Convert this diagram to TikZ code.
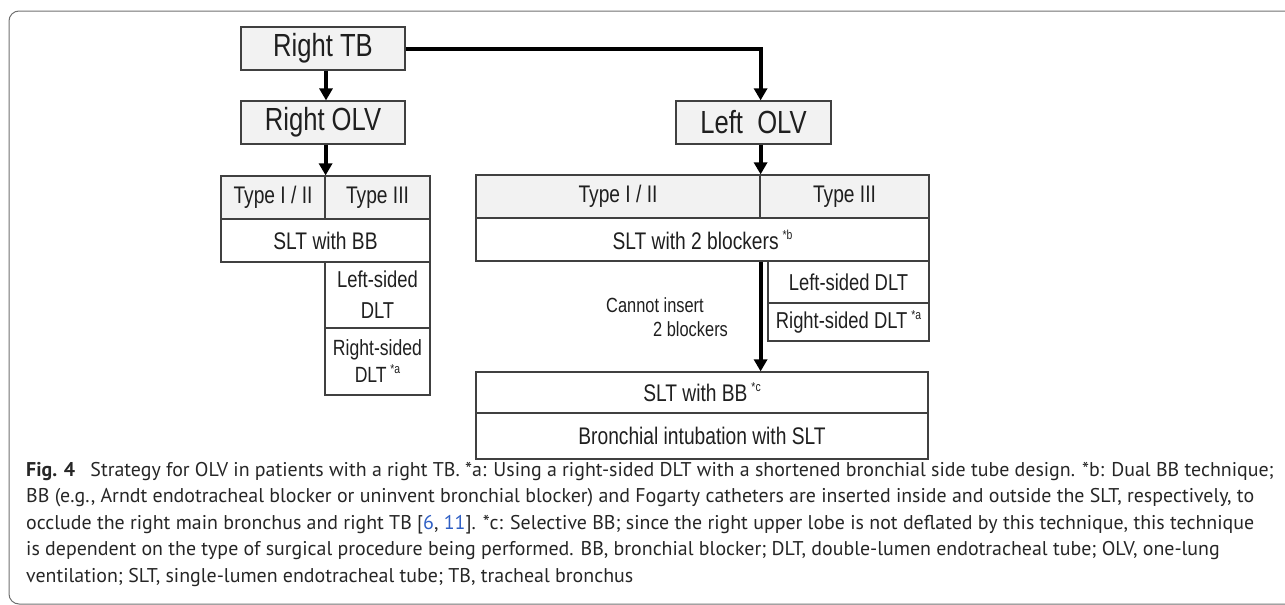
\documentclass[tikz,border=0pt]{standalone}
\usepackage{fontspec}
\usepackage{xcolor}
\usetikzlibrary{arrows.meta,positioning,calc}
\newfontfamily\boxfont[FakeStretch=0.8]{Liberation Sans}
\newfontfamily\capfont{PT Sans}
\definecolor{boxgray}{HTML}{F2F2F2}
\definecolor{boxline}{HTML}{404040}
\definecolor{framegray}{HTML}{707070}
\definecolor{refblue}{HTML}{2F5FC4}
\newcommand{\fnmk}[1]{\,\raisebox{0.42em}{\fontsize{13}{13}\selectfont *#1}}

\begin{document}
\begin{tikzpicture}[
  x=1pt, y=-1pt,
  cell/.style={draw=boxline, line width=1.2pt, rectangle, inner sep=0pt, align=center,
    text=black!88, font=\boxfont\fontsize{24}{28}\selectfont},
  head/.style={cell, fill=boxgray},
  big/.style={head, font=\boxfont\fontsize{32}{36}\selectfont},
  flow/.style={line width=4pt, -{Triangle[width=13pt,length=12pt]}}
]
\useasboundingbox (0,0) rectangle (1285,605);
\draw[framegray, line width=1pt, rounded corners=10pt] (1295,11) -- (9,11) -- (9,604) -- (1295,604);

% right side
\node[big, minimum width=164, minimum height=43] (rtb) at (323,48.5) {Right TB};
\node[big, minimum width=164, minimum height=43] (rolv) at (323,122.5) {Right OLV};
\node[head, minimum width=104, minimum height=43] (rtype12) at (273,197.5) {Type I / II};
\node[head, minimum width=105, minimum height=43] (rtype3) at (377.5,197.5) {Type III};
\node[cell, minimum width=209, minimum height=43] (rslt) at (325.5,240.5) {SLT with BB};
\node[cell, minimum width=105, minimum height=66, font=\boxfont\fontsize{23}{31}\selectfont] (rdltl) at (377.5,295) {Left-sided\\DLT};
\node[cell, minimum width=105, minimum height=67, font=\boxfont\fontsize{22}{27}\selectfont] (rdltr) at (377.5,361.5) {Right-sided\\DLT\fnmk{a}};

% left side
\node[big, minimum width=155, minimum height=43] (lolv) at (753.5,122.5) {Left~~OLV};
\node[head, minimum width=284, minimum height=43] (ltype12) at (618,196.5) {Type I / II};
\node[head, minimum width=169, minimum height=43] (ltype3) at (844.5,196.5) {Type III};
\node[cell, minimum width=453, minimum height=43] (lslt) at (702.5,239.5) {SLT with 2 blockers\fnmk{b}};
\node[cell, minimum width=161, minimum height=42, font=\boxfont\fontsize{23}{28}\selectfont] (ldltl) at (848.5,282) {Left-sided DLT};
\node[cell, minimum width=161, minimum height=38, font=\boxfont\fontsize{23}{28}\selectfont] (ldltr) at (848.5,322) {Right-sided DLT\fnmk{a}};
\node[cell, minimum width=452, minimum height=41] (sltbb) at (702,392.5) {SLT with BB\fnmk{c}};
\node[cell, minimum width=452, minimum height=46] (bronch) at (702,436) {Bronchial intubation with SLT};
\node[anchor=west, align=left, inner sep=0pt, text=black!88, font=\boxfont\fontsize{20.5}{24}\selectfont] (note) at (606,317)
  {Cannot insert\\\hspace*{47pt}2 blockers};

% connectors
\draw[flow] (rtb.south -| 326,0) -- (rolv.north -| 326,0);
\draw[flow] (rolv.south -| rtype12.north east) -- (rtype12.north east);
\draw[flow] (rtb.east) -| (lolv.north -| ltype12.north east);
\draw[flow] (lolv.south -| ltype12.north east) -- (ltype12.north east);
\draw[flow] (lslt.south -| ltype12.east) -- (sltbb.north -| ltype12.east);

% caption
\node[anchor=north west, align=left, inner sep=0pt, text=black!85,
  font=\capfont\fontsize{19.9}{26.5}\selectfont] (caption) at (26,462)
  {\textbf{Fig. 4}\hspace{0.5em} Strategy for OLV in patients with a right TB. *a: Using a right-sided DLT with a shortened bronchial side tube design. *b: Dual BB technique;\\
   BB (e.g., Arndt endotracheal blocker or uninvent bronchial blocker) and Fogarty catheters are inserted inside and outside the SLT, respectively, to\\
   occlude the right main bronchus and right TB [\textcolor{refblue}{6}, \textcolor{refblue}{11}]. *c: Selective BB; since the right upper lobe is not deflated by this technique, this technique\\
   is dependent on the type of surgical procedure being performed. BB, bronchial blocker; DLT, double-lumen endotracheal tube; OLV, one-lung\\
   ventilation; SLT, single-lumen endotracheal tube; TB, tracheal bronchus};
\end{tikzpicture}
\end{document}
